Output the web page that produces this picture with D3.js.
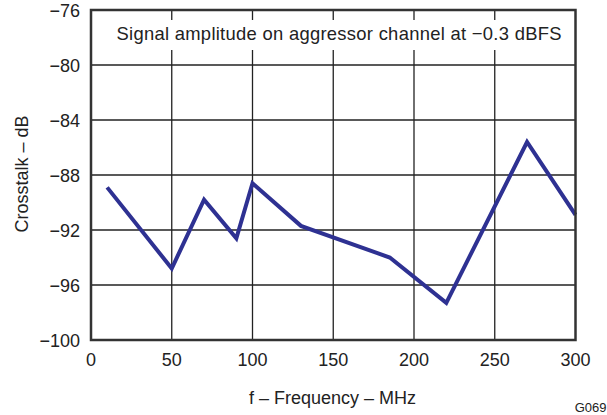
<!DOCTYPE html>
<meta charset="utf-8">
<style>
body {margin: 0; background: white;}
text {font-family: "Liberation Sans", Arial, sans-serif; fill: #222;}
.grid line {stroke: #222; stroke-width: 1.3px;}
.frame {fill: none; stroke: #333; stroke-width: 2.5px;}
.trace {fill: none; stroke: #2e3192; stroke-width: 4px; stroke-linejoin: miter;}
</style>
<body>
<script src="https://d3js.org/d3.v7.min.js"></script>
<script>
var width = 607, height = 415
var freq = [10, 50, 70, 90, 100, 130, 185, 220, 270, 300]
var crosstalk = [-88.9, -94.8, -89.8, -92.6, -88.6, -91.7, -94.0, -97.3, -85.6, -90.9]
var xTicks = [0, 50, 100, 150, 200, 250, 300]
var yTicks = [-100, -96, -92, -88, -84, -80, -76]

var x = d3.scaleLinear().domain([0, 300]).range([91, 575.5])
var y = d3.scaleLinear().domain([-100, -76]).range([340, 10])
var fmt = function(d) { return String(d).replace("-", "\u2212") }

var svg = d3.select("body").append("svg")
  .attr("width", width).attr("height", height)

var grid = svg.append("g").attr("class", "grid")
grid.selectAll(".v").data(xTicks.slice(1, -1)).enter().append("line")
  .attr("x1", x).attr("x2", x).attr("y1", y(-100)).attr("y2", y(-76))
grid.selectAll(".h").data(yTicks.slice(1, -1)).enter().append("line")
  .attr("y1", y).attr("y2", y).attr("x1", x(0)).attr("x2", x(300))

// white box behind the note, gridlines stop at it
svg.append("rect").attr("x", x(0) + 2).attr("y", 20).attr("width", x(300) - x(0) - 4)
  .attr("height", 30).attr("fill", "white")
svg.append("text").attr("x", 116.5).attr("y", 40)
  .attr("textLength", 445).attr("lengthAdjust", "spacing")
  .style("font-size", "18.4px")
  .text("Signal amplitude on aggressor channel at \u22120.3 dBFS")

svg.append("path").attr("class", "trace")
  .datum(d3.zip(freq, crosstalk))
  .attr("d", d3.line().x(d => x(d[0])).y(d => y(d[1])))

svg.append("rect").attr("class", "frame")
  .attr("x", x(0)).attr("y", y(-76))
  .attr("width", x(300) - x(0)).attr("height", y(-100) - y(-76))

svg.selectAll(".yt").data(yTicks).enter().append("text")
  .attr("x", x(0) - 11).attr("y", d => y(d) + 6.5)
  .attr("text-anchor", "end").style("font-size", "18px").text(fmt)
svg.selectAll(".xt").data(xTicks).enter().append("text")
  .attr("x", x).attr("y", 365.5)
  .attr("text-anchor", "middle").style("font-size", "18px").text(fmt)

svg.append("text").attr("x", 249).attr("y", 403.5)
  .style("font-size", "18px")
  .text("f \u2013 Frequency \u2013 MHz")
svg.append("text").attr("transform", "translate(28,174) rotate(-90)")
  .attr("text-anchor", "middle").style("font-size", "18px")
  .text("Crosstalk \u2013 dB")
svg.append("text").attr("x", 606.5).attr("y", 411.5)
  .attr("text-anchor", "end").style("font-size", "13px").text("G069")
</script>
